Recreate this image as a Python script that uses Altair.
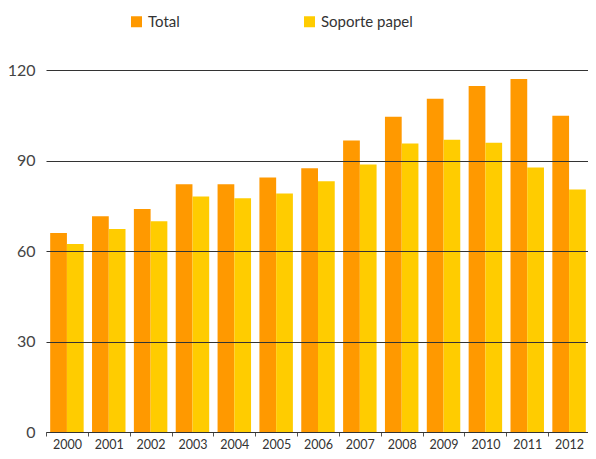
import altair as alt
import pandas as pd

years = [str(y) for y in range(2000, 2013)]
total = [66.0, 71.5, 73.9, 82.1, 82.1, 84.4, 87.4, 96.6, 104.5, 110.5, 114.7, 117.0, 104.8]
papel = [62.3, 67.3, 69.9, 78.1, 77.5, 79.1, 83.1, 88.7, 95.6, 96.9, 95.9, 87.7, 80.4]
series = ["Total", "Soporte papel"]
colors = ["#FF9900", "#FFCC00"]
y_ticks = [0, 30, 60, 90, 120]

rows = []
for i, yr in enumerate(years):
    rows.append({"year": yr, "serie": series[0], "value": total[i]})
    rows.append({"year": yr, "serie": series[1], "value": papel[i]})
df = pd.DataFrame(rows)

PAD_LEFT = 38          # plot starts at page x = 46
W = 580 - PAD_LEFT     # svg width 580
RANGE = 544
step = RANGE / len(years)

chart = alt.Chart(df).mark_bar().encode(
    x=alt.X("year:N", title=None,
            scale=alt.Scale(paddingInner=0.2, paddingOuter=0.1, range=[0, RANGE]),
            axis=alt.Axis(labelAngle=0, tickOffset=-step / 2, labelOffset=step / 2,
                          tickSize=4, tickColor="#555", domainColor="#555",
                          labelPadding=2, labelFontSize=12.5, labelColor="#333",
                          labelFont="Lato", labelBaseline="top")),
    xOffset=alt.XOffset("serie:N", sort=series),
    y=alt.Y("value:Q", title=None,
            scale=alt.Scale(domain=[0, 120]),
            axis=alt.Axis(values=y_ticks, grid=True, gridColor="#333", gridWidth=1,
                          domain=False, ticks=False, labelPadding=11,
                          labelFontSize=16, labelColor="#444", labelFont="Lato",
                          zindex=1)),
    color=alt.Color("serie:N", sort=series,
                    scale=alt.Scale(domain=series, range=colors),
                    legend=alt.Legend(title=None, orient="none", direction="horizontal",
                                      legendX=129 - 8 - PAD_LEFT, legendY=-56,
                                      symbolType="square",
                                      symbolSize=121, symbolStrokeWidth=0,
                                      labelFontSize=15, labelColor="#333", labelFont="Lato",
                                      columnPadding=122, labelOffset=4)),
).properties(
    width=W, height=362,
    autosize=alt.AutoSizeParams(type="none"),
    padding={"left": PAD_LEFT, "top": 62, "right": 0, "bottom": 19},
).configure_view(stroke=None)

chart.save("out.html", embed_options={"renderer": "svg", "actions": False})
